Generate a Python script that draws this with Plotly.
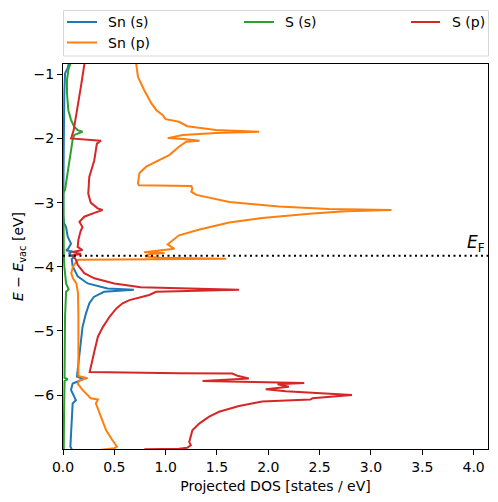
import plotly.graph_objects as go

# ---- data (projected DOS [states/eV] vs energy E - E_vac [eV]) ----
sn_s_dos = [0.062, 0.046, 0.02, 0.013, 0.008, 0.003, 0.002, 0.01, 0.03, 0.046, 0.078, 0.05, 0.03,
            0.094, 0.06, 0.08, 0.11, 0.085, 0.094, 0.143, 0.24, 0.434, 0.69, 0.40, 0.30, 0.256,
            0.223, 0.19, 0.175, 0.16, 0.14, 0.136, 0.2, 0.094, 0.078, 0.104, 0.126, 0.094, 0.085,
            0.078, 0.072, 0.09]
sn_s_energy = [-0.80, -0.90, -0.985, -1.30, -2.0, -2.6, -3.2, -3.32, -3.38, -3.53, -3.64, -3.72, -3.745,
               -3.76, -3.79, -3.83, -3.845, -3.88, -3.99, -4.15, -4.26, -4.34, -4.36, -4.39, -4.47, -4.57,
               -4.73, -4.94, -5.14, -5.30, -5.60, -5.71, -5.75, -5.82, -5.92, -6.0, -6.08, -6.13, -6.34,
               -6.65, -6.80, -6.86]

sn_p_dos = [0.71, 0.73, 0.79, 0.825, 0.86, 0.91, 0.97, 1.0, 1.13, 1.21, 1.49, 1.91, 1.49, 1.165,
            1.02, 1.17, 1.33, 1.2, 1.13, 1.035, 0.905, 0.81, 0.745, 0.73, 0.74, 1.25, 1.26, 1.25,
            1.30, 1.62, 2.1, 2.59, 3.2, 2.75, 2.43, 1.94, 1.62, 1.33, 1.13, 1.02, 1.085, 0.84, 0.79,
            0.99, 0.85, 0.80, 0.95, 1.59, 0.15, 0.13, 0.097, 0.08, 0.097, 0.13, 0.146, 0.15, 0.15,
            0.15, 0.24, 0.16, 0.143, 0.19, 0.27, 0.34, 0.32, 0.37, 0.42, 0.48, 0.525, 0.50, 0.33]
sn_p_energy = [-0.80, -1.04, -1.245, -1.35, -1.45, -1.56, -1.635, -1.70, -1.74, -1.81, -1.87, -1.895, -1.915, -1.945,
               -1.995, -2.01, -2.035, -2.05, -2.13, -2.26, -2.36, -2.44, -2.54, -2.70, -2.73, -2.74, -2.78, -2.83,
               -2.88, -2.99, -3.06, -3.10, -3.115, -3.135, -3.17, -3.24, -3.31, -3.42, -3.51, -3.65, -3.72, -3.76, -3.775,
               -3.785, -3.80, -3.84, -3.86, -3.875, -3.89, -3.92, -4.0, -4.10, -4.18, -4.26, -4.41, -4.78, -5.30,
               -5.70, -5.735, -5.77, -5.82, -5.92, -6.05, -6.07, -6.13, -6.34, -6.55, -6.70, -6.80, -6.83, -6.86]

s_s_dos = [0.08, 0.052, 0.039, 0.039, 0.052, 0.078, 0.11, 0.143, 0.19, 0.143, 0.11, 0.094, 0.078,
           0.062, 0.039, 0.02, 0.004, 0.003, 0.008, 0.013, 0.03, 0.055, 0.03, 0.02, 0.017, 0.015,
           0.046, 0.015, 0.01, 0.007]
s_s_energy = [-0.80, -0.93, -1.09, -1.30, -1.56, -1.71, -1.82, -1.87, -1.895, -1.925, -1.945, -2.02, -2.18,
              -2.34, -2.60, -2.80, -2.85, -3.5, -3.85, -3.99, -4.26, -4.35, -4.39, -4.78, -5.30, -5.73,
              -5.75, -5.78, -6.3, -6.86]

s_p_dos = [0.21, 0.207, 0.175, 0.143, 0.117, 0.104, 0.085, 0.078, 0.37, 0.33, 0.305, 0.256, 0.246,
           0.27, 0.337, 0.385, 0.305, 0.207, 0.16, 0.19, 0.17, 0.15, 0.143, 0.19, 0.094, 0.175, 0.094,
           0.126, 0.143, 0.207, 0.305, 0.50, 0.757, 1.715, 0.907, 0.84, 0.647, 0.58, 0.52, 0.453,
           0.388, 0.34, 0.308, 0.275, 0.26, 1.13, 1.65, 1.70, 1.81, 1.36, 2.35, 2.09, 2.2, 1.975, 2.17,
           2.815, 2.43, 2.41, 1.94, 1.715, 1.52, 1.42, 1.33, 1.26, 1.245, 1.23, 1.245, 1.21, 1.13,
           0.80, 0.78]
s_p_energy = [-0.80, -0.855, -1.19, -1.505, -1.76, -1.87, -1.97, -2.0, -2.035, -2.08, -2.34, -2.60, -2.86,
              -3.0, -3.09, -3.115, -3.16, -3.22, -3.30, -3.38, -3.45, -3.58, -3.69, -3.74, -3.77, -3.80, -3.82,
              -3.89, -3.97, -4.10, -4.18, -4.26, -4.32, -4.36, -4.39, -4.44, -4.52, -4.57, -4.65, -4.78,
              -4.94, -5.09, -5.30, -5.51, -5.64, -5.66, -5.665, -5.70, -5.74, -5.78, -5.81, -5.83, -5.87, -5.91, -5.94,
              -6.0, -6.05, -6.07, -6.10, -6.17, -6.26, -6.34, -6.44, -6.55, -6.65, -6.73, -6.78, -6.82, -6.835,
              -6.845, -6.90]

fermi_level = -3.83
series_names = ["Sn (s)", "Sn (p)", "S (s)", "S (p)"]
x_ticks = [0.0, 0.5, 1.0, 1.5, 2.0, 2.5, 3.0, 3.5, 4.0]
y_ticks = [-1, -2, -3, -4, -5, -6]

colors = ["#1f77b4", "#ff7f0e", "#2ca02c", "#d62728"]
series = [(sn_s_dos, sn_s_energy), (sn_p_dos, sn_p_energy), (s_s_dos, s_s_energy), (s_p_dos, s_p_energy)]

# ---- layout geometry (pixels); the page body adds an 8px offset ----
OFF = 8
W, H = 498 - OFF, 502 - OFF
ML, MR, MT, MB = 63 - OFF, 10, 64 - OFF, 53
PW, PH = W - ML - MR, H - MT - MB


def px_x(p):  # window pixel -> paper x
    return (p - OFF - ML) / PW


def px_y(p):  # window pixel -> paper y
    return (H - MB - (p - OFF)) / PH


FONT = "DejaVu Sans"
fig = go.Figure()
for (xs, ys), name, c in zip(series, series_names, colors):
    fig.add_trace(go.Scatter(x=xs, y=ys, mode="lines", name=name, showlegend=False,
                             line=dict(color=c, width=2)))

fig.add_hline(y=fermi_level, line=dict(color="black", width=2, dash="2px,3.5px"))
fig.add_annotation(x=1, xref="paper", y=fermi_level, yref="y", text="<i>E</i><sub>F</sub>",
                   showarrow=False, xanchor="right", yanchor="bottom", xshift=-1, yshift=-1,
                   font=dict(family=FONT, size=17, color="black"))

# ---- legend box (matplotlib style, 3 columns) ----
fig.add_shape(type="rect", xref="paper", yref="paper",
              x0=px_x(63.5), x1=px_x(488.5), y0=px_y(56), y1=px_y(10.5),
              line=dict(color="#d6d6d6", width=1), fillcolor="white", layer="above")
legend_pos = {  # name: (line x0, line x1, text x, row y) in window pixels
    "Sn (s)": (67, 97, 106, 22),
    "Sn (p)": (67, 97, 106, 42.5),
    "S (s)": (244, 274, 283, 22),
    "S (p)": (411, 440, 449.5, 22),
}
for name, c in zip(series_names, colors):
    lx0, lx1, tx, ry = legend_pos[name]
    fig.add_shape(type="line", xref="paper", yref="paper", x0=px_x(lx0), x1=px_x(lx1),
                  y0=px_y(ry), y1=px_y(ry), line=dict(color=c, width=2), layer="above")
    fig.add_annotation(x=px_x(tx), y=px_y(ry), xref="paper", yref="paper", text=name,
                       showarrow=False, xanchor="left", yanchor="middle",
                       font=dict(family=FONT, size=14, color="black"))

axis_common = dict(showline=True, linecolor="black", linewidth=1, mirror=True, ticks="outside",
                   ticklen=5, tickwidth=1, tickcolor="black", showgrid=False, zeroline=False,
                   automargin=False, tickfont=dict(family=FONT, size=14, color="black"))
fig.update_xaxes(range=[0, 4.14], tickvals=x_ticks, tickformat=".1f",
                 title=dict(text="Projected DOS [states / eV]", standoff=7,
                            font=dict(family=FONT, size=14, color="black")),
                 **axis_common)
fig.update_yaxes(range=[-6.84, -0.84], tickvals=y_ticks,
                 title=dict(text="<i>E</i> − <i>E</i><sub>vac</sub> [eV]", standoff=6,
                            font=dict(family=FONT, size=14, color="black")),
                 **axis_common)

fig.update_layout(
    width=W, height=H,
    margin=dict(l=ML, r=MR, t=MT, b=MB, autoexpand=False),
    plot_bgcolor="white", paper_bgcolor="white",
    font=dict(family=FONT, size=14, color="black"),
    showlegend=False,
)
fig.write_html("out.html")
